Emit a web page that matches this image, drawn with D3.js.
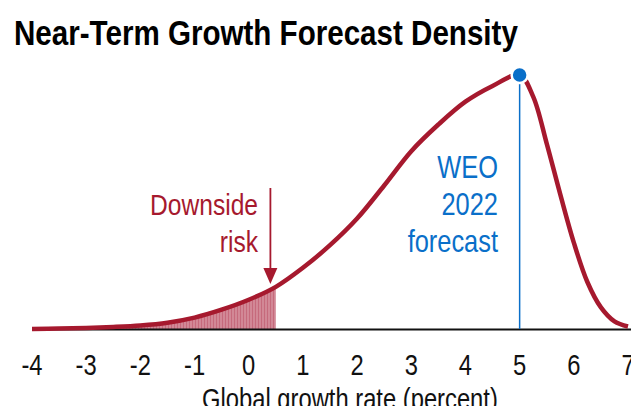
<!DOCTYPE html>
<html>
<head>
<meta charset="utf-8">
<script src="https://cdn.jsdelivr.net/npm/d3@7"></script>
<style>
  body { margin: 0; background: #fff; }
  text { font-family: "Liberation Sans", Arial, sans-serif; }
</style>
</head>
<body>
<div id="chart"></div>
<script>
const WIDTH = 631;
const HEIGHT = 406;

// growth rate (percent) and relative density
const growth = [-4, -3.5, -3, -2.5, -2, -1.5, -1, -0.5, 0, 0.5, 1, 1.5, 2, 2.5, 3, 3.5, 4, 4.5, 5,
    5.25, 5.5, 5.75, 6, 6.25, 6.5, 6.75, 7];
const density = [0.0, 0.002, 0.004, 0.008, 0.014, 0.025, 0.045, 0.076, 0.115, 0.166, 0.241, 0.33, 0.435,
    0.565, 0.70, 0.805, 0.895, 0.957, 1.0, 0.915, 0.73, 0.53, 0.34, 0.185, 0.085, 0.03, 0.01];
const xTicks = [-4, -3, -2, -1, 0, 1, 2, 3, 4, 5, 6, 7];
const forecast = 5;
const riskCutoff = 0.5;

const red = "#a6192e";
const blue = "#0a6fc9";
const NARROW = 0.82; // no narrow face installed, squeeze the regular one

const points = growth.map((g, i) => ({ g, d: density[i] }));

const svg = d3.select("#chart")
    .append("svg")
    .attr("width", WIDTH)
    .attr("height", HEIGHT);

const x = d3.scaleLinear().domain([-4, 7]).range([32, 628]);
const y = d3.scaleLinear().domain([0, 1]).range([329, 75]);

function narrowText(parent, tx, ty, size, anchor, squeeze = NARROW) {
    return parent.append("text")
        .attr("transform", `translate(${tx},${ty}) scale(${squeeze},1)`)
        .attr("text-anchor", anchor)
        .style("font-size", `${size}px`);
}

// hatching for the downside area
const defs = svg.append("defs");
const pat = defs.append("pattern")
    .attr("id", "hatch")
    .attr("patternUnits", "userSpaceOnUse")
    .attr("width", 3)
    .attr("height", 10);
pat.append("rect").attr("width", 3).attr("height", 10).attr("fill", "#d28896");
pat.append("line")
    .attr("x1", 0.5).attr("x2", 0.5).attr("y1", 0).attr("y2", 10)
    .attr("stroke", "#c66a7c").attr("stroke-width", 1);

const curve = d3.curveCatmullRom.alpha(0.5);

// split density at the cutoff so the area stops cleanly
const cutD = d3.scaleLinear().domain(growth).range(density)(riskCutoff);
const tail = points.filter(p => p.g < riskCutoff).concat([{ g: riskCutoff, d: cutD }]);

svg.append("path")
    .datum(tail)
    .attr("fill", "url(#hatch)")
    .attr("d", d3.area().x(p => x(p.g)).y0(y(0)).y1(p => y(p.d)).curve(curve));

// baseline
svg.append("line")
    .attr("x1", x(-4)).attr("x2", WIDTH)
    .attr("y1", y(0) + 0.5).attr("y2", y(0) + 0.5)
    .attr("stroke", "#111")
    .attr("stroke-width", 1.8);

// x tick labels
xTicks.forEach(t => {
    narrowText(svg, x(t), 375, 29, "middle")
        .attr("fill", "#111")
        .text(t);
});

narrowText(svg, 202, 409, 29, "start")
    .attr("fill", "#111")
    .text("Global growth rate (percent)");

// forecast line
svg.append("line")
    .attr("x1", x(forecast)).attr("x2", x(forecast))
    .attr("y1", y(1)).attr("y2", y(0))
    .attr("stroke", blue)
    .attr("stroke-width", 1.5);

// density curve
svg.append("path")
    .datum(points)
    .attr("fill", "none")
    .attr("stroke", red)
    .attr("stroke-width", 4.5)
    .attr("d", d3.line().x(p => x(p.g)).y(p => y(p.d)).curve(curve));

svg.append("circle")
    .attr("cx", x(forecast))
    .attr("cy", y(1))
    .attr("r", 8)
    .attr("fill", blue)
    .attr("stroke", "#fff")
    .attr("stroke-width", 2.5);

// downside arrow
const ax = x(0.4);
svg.append("line")
    .attr("x1", ax).attr("x2", ax)
    .attr("y1", 188).attr("y2", 272)
    .attr("stroke", red)
    .attr("stroke-width", 1.8);
svg.append("path")
    .attr("d", `M${ax - 7},268 L${ax + 7},268 L${ax},284 Z`)
    .attr("fill", red);

["Downside", "risk"].forEach((t, i) => {
    narrowText(svg, 258, 215 + i * 37, 30, "end")
        .attr("fill", red)
        .text(t);
});

["WEO", "2022", "forecast"].forEach((t, i) => {
    narrowText(svg, 498, 178 + i * 37, 31, "end")
        .attr("fill", blue)
        .text(t);
});

narrowText(svg, 14, 45, 35, "start", 0.845)
    .attr("font-weight", "bold")
    .attr("fill", "#000")
    .text("Near-Term Growth Forecast Density");
</script>
</body>
</html>
